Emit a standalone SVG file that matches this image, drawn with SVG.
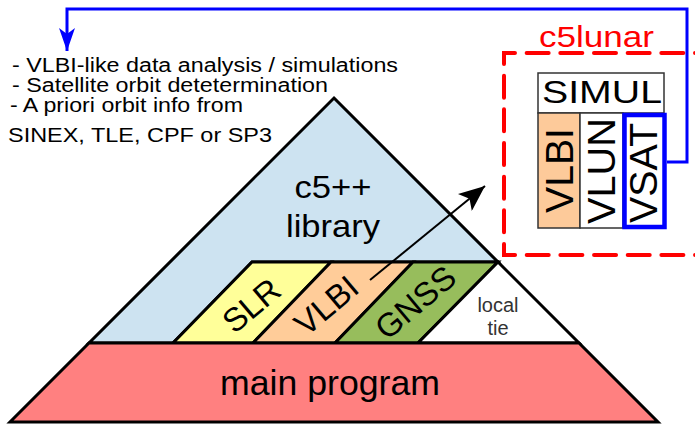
<svg xmlns="http://www.w3.org/2000/svg" width="695" height="424" viewBox="0 0 695 424">
<style>
text{font-family:"Liberation Sans",Arial,sans-serif;fill:#000}
.edge{stroke:#000;stroke-width:3;stroke-linejoin:miter}
.note{font-size:20px}
.band{font-size:33px;text-anchor:middle}
.big{font-size:32px;text-anchor:middle}
.box{stroke:#333;stroke-width:1.5}
.vert{font-size:39px;text-anchor:middle}
</style>
<defs>
<marker id="ablack" markerUnits="userSpaceOnUse" markerWidth="28" markerHeight="22" viewBox="0 0 28 22" refX="26" refY="11" orient="auto">
<path d="M0,0 L26,11 L0,22 L6,11 z" fill="#000"/>
</marker>
<marker id="ablue" markerUnits="userSpaceOnUse" markerWidth="24" markerHeight="16" viewBox="0 0 24 16" refX="23" refY="8" orient="auto">
<path d="M0,0 L23,8 L0,16 L6,8 z" fill="#00f"/>
</marker>
</defs>
<rect width="695" height="424" fill="#fff"/>

<g id="notes">
<text class="note" x="12" y="72" textLength="386" lengthAdjust="spacingAndGlyphs">- VLBI-like data analysis / simulations</text>
<text class="note" x="12" y="92" textLength="316" lengthAdjust="spacingAndGlyphs">- Satellite orbit detetermination</text>
<text class="note" x="10" y="112" textLength="233" lengthAdjust="spacingAndGlyphs">- A priori orbit info from</text>
<text class="note" x="8" y="142" textLength="264" lengthAdjust="spacingAndGlyphs">SINEX, TLE, CPF or SP3</text>
</g>

<g id="library">
<polygon class="edge" points="334,98 498,262 252,262 173,343 89,343" fill="#cde3f1"/>
<text class="big" x="333" y="198" textLength="77" lengthAdjust="spacingAndGlyphs">c5++</text>
<text class="big" x="333" y="237" textLength="94" lengthAdjust="spacingAndGlyphs">library</text>
</g>
<g id="slr">
<polygon class="edge" points="252,262 331,262 253,343 173,343" fill="#ffff99"/>
<text class="band" transform="translate(251,305) rotate(-40)" y="12">SLR</text>
</g>
<g id="vlbi">
<polygon class="edge" points="331,262 413,262 335,343 253,343" fill="#ffcc99"/>
<text class="band" transform="translate(326,305) rotate(-40)" y="12">VLBI</text>
</g>
<g id="gnss">
<polygon class="edge" points="413,262 498,262 418,343 335,343" fill="#97bd5c"/>
<text class="band" transform="translate(415,302) rotate(-40)" y="12">GNSS</text>
</g>
<g id="localtie">
<polygon class="edge" points="498,262 579,343 418,343" fill="#fff"/>
<text x="498" y="312" font-size="20" text-anchor="middle" style="fill:#333">local</text>
<text x="498" y="335" font-size="20" text-anchor="middle" style="fill:#333">tie</text>
</g>
<g id="main">
<polygon class="edge" points="89,343 579,343 658,422 10,422" fill="#ff8080"/>
<text x="330" y="395" font-size="35" text-anchor="middle" textLength="220" lengthAdjust="spacingAndGlyphs">main program</text>
</g>

<g id="c5lunar">
<path d="M720,53 H504 V255 H720" fill="none" stroke="#f00" stroke-width="4" stroke-dasharray="22 11.67" stroke-dashoffset="30.67" stroke-linecap="round"/>
<text x="539" y="47" font-size="30" style="fill:#f00" textLength="115" lengthAdjust="spacingAndGlyphs">c5lunar</text>
</g>
<g id="simul">
<rect class="box" x="538" y="73" width="126" height="40" fill="#fff"/>
<text x="542" y="103" font-size="32" textLength="120" lengthAdjust="spacingAndGlyphs">SIMUL</text>
</g>
<g id="vlbi-lunar">
<rect class="box" x="538" y="113" width="42" height="115" fill="#fdca9a"/>
<text class="vert" transform="translate(573,170.5) rotate(-90)" textLength="85" lengthAdjust="spacingAndGlyphs">VLBI</text>
</g>
<g id="vlun">
<rect class="box" x="580" y="113" width="43" height="115" fill="#fff"/>
<text class="vert" transform="translate(615,171) rotate(-90)" textLength="106" lengthAdjust="spacingAndGlyphs">VLUN</text>
</g>
<g id="vsat">
<rect x="624.5" y="115" width="40" height="112" fill="#fff" stroke="#00f" stroke-width="4.5"/>
<text class="vert" transform="translate(657,173) rotate(-90)" textLength="100" lengthAdjust="spacingAndGlyphs">VSAT</text>
</g>

<g id="connectors">
<path d="M370,280 L485,186" fill="none" stroke="#000" stroke-width="2" marker-end="url(#ablack)"/>
<path d="M667,162 H687 V9 H67 V51" fill="none" stroke="#00f" stroke-width="3" marker-end="url(#ablue)"/>
</g>
</svg>
